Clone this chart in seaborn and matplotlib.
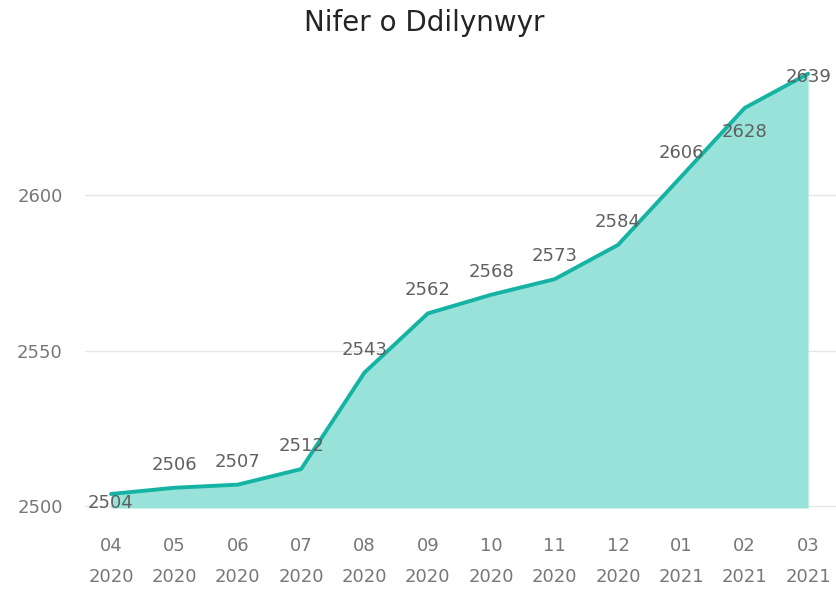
import matplotlib
matplotlib.use("Agg")
import matplotlib.pyplot as plt
import seaborn as sns
import pandas as pd

months = ["04", "05", "06", "07", "08", "09", "10", "11", "12", "01", "02", "03"]
years = ["2020"] * 9 + ["2021"] * 3
followers = [2504, 2506, 2507, 2512, 2543, 2562, 2568, 2573, 2584, 2606, 2628, 2639]
y_ticks = [2500, 2550, 2600]
title = "Nifer o Ddilynwyr"

sns.set_theme(style="white")
plt.rcParams["font.family"] = ["DejaVu Sans"]

df = pd.DataFrame({"idx": range(len(months)), "followers": followers,
                   "label": [f"{m}\n{y}" for m, y in zip(months, years)]})

fig = plt.figure(figsize=(8.36, 5.89), dpi=100)
ax = fig.add_axes([85 / 836, 1 - 508 / 589, 1 - 85 / 836, (508 - 55) / 589])

ymin, ymax = 2499.5, 2645
ax.fill_between(df["idx"], ymin, df["followers"], color="#98E2DA", linewidth=0, zorder=1)
sns.lineplot(data=df, x="idx", y="followers", ax=ax, color="#14B3A3", linewidth=2.8, zorder=3)

ax.set_ylim(ymin, ymax)
ax.set_xlim(-0.41, 11.44)
ax.set_yticks(y_ticks)
ax.set_yticklabels([str(t) for t in y_ticks], color="#777777", fontsize=13)
ax.set_xticks(df["idx"])
ax.set_xticklabels(df["label"], color="#777777", fontsize=13, linespacing=1.9)
ax.tick_params(axis="y", length=0, pad=16)
ax.tick_params(axis="x", length=0, pad=21)
for t in y_ticks:
    ax.axhline(t, color="#E6E6E6", linewidth=1, zorder=0)
for s in ax.spines.values():
    s.set_visible(False)
ax.set_xlabel("")
ax.set_ylabel("")

# label placement (offset in pixels)
offsets = {0: -9, 10: -24, 11: -3}
for i, v in enumerate(followers):
    dy = offsets.get(i, 23)
    ax.annotate(str(v), (i, v), xytext=(0, dy), textcoords="offset pixels",
                ha="center", va="center", fontsize=13, color="#606060",
                zorder=4)

fig.text(0.508, 1 - 23 / 589, title, ha="center", va="center", fontsize=20, color="#252423")

fig.savefig("out.png", dpi=100)
